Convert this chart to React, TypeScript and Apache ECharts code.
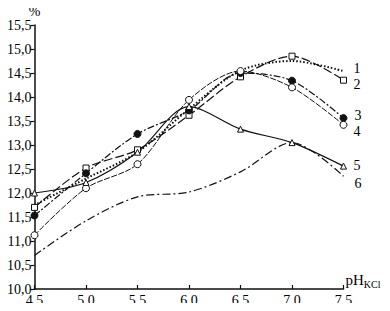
import React, { useEffect, useRef } from "react";
import * as echarts from "echarts";

const xValues = [4.5, 5.0, 5.5, 6.0, 6.5, 7.0, 7.5];
const s1 = [11.75, 12.3, 12.85, 13.75, 14.55, 14.75, 14.54];
const s2 = [11.7, 12.52, 12.9, 13.62, 14.42, 14.85, 14.35];
const s3 = [11.53, 12.41, 13.23, 13.72, 14.5, 14.34, 13.56];
const s4 = [11.12, 12.1, 12.6, 13.94, 14.54, 14.2, 13.42];
const s5 = [12.0, 12.22, 12.85, 13.8, 13.33, 13.05, 12.56];
const s6 = [10.7, 11.42, 11.92, 12.02, 12.44, 13.05, 12.35];
const seriesNames = ["1", "2", "3", "4", "5", "6"];

const FONT = "Liberation Serif";
const fmt = (v: number) => v.toFixed(1).replace(".", ",");

export default function App() {
  const ref = useRef<HTMLDivElement>(null);
  useEffect(() => {
    if (!ref.current) return;
    const chart = echarts.init(ref.current, undefined, { renderer: "svg" });
    const pts = (arr: number[]) => xValues.map((x, i) => [x, arr[i]]);
    const endLabel = (dx: number, dy: number) => ({
      show: true,
      formatter: "{a}",
      offset: [dx, dy],
      fontFamily: FONT,
      fontSize: 14,
      lineHeight: 12,
      color: "#000",
    });
    const base = (name: string, data: number[], extra: any) => ({
      name,
      type: "line",
      data: pts(data),
      smooth: 0.3,
      symbolSize: 6,
      itemStyle: { color: "#fff", borderColor: "#111", borderWidth: 1 },
      ...extra,
    });
    chart.setOption({
      animation: false,
      grid: { left: 34.5, right: 46.5, top: 25, bottom: 22 },
      xAxis: {
        type: "value",
        min: 4.5,
        max: 7.5,
        interval: 0.5,
        name: "{a|pH}{b|KCl}",
        nameLocation: "end",
        nameGap: 2,
        nameTextStyle: {
          align: "left",
          verticalAlign: "bottom",
          rich: {
            a: { fontFamily: FONT, fontSize: 15, color: "#000" },
            b: { fontFamily: FONT, fontSize: 10, color: "#000", padding: [8, 0, 0, 0] },
          },
        },
        axisLine: { lineStyle: { color: "#111", width: 1.5 } },
        axisTick: { inside: true, length: 4, lineStyle: { color: "#111", width: 1.2 } },
        axisLabel: {
          formatter: fmt,
          fontFamily: FONT,
          fontSize: 14,
          color: "#000",
          margin: 4,
        },
        splitLine: { show: false },
      },
      yAxis: {
        type: "value",
        min: 10,
        max: 15.5,
        interval: 0.5,
        name: "%",
        nameLocation: "end",
        nameGap: 6,
        nameTextStyle: { fontFamily: FONT, fontSize: 14, color: "#000", align: "center" },
        axisLine: { show: true, lineStyle: { color: "#111", width: 1.5 } },
        axisTick: { show: true, inside: false, length: 4, lineStyle: { color: "#111", width: 1.2 } },
        axisLabel: {
          formatter: fmt,
          fontFamily: FONT,
          fontSize: 14,
          color: "#000",
          margin: 3,
        },
        splitLine: { show: false },
      },
      series: [
        base(seriesNames[0], s1, {
          symbol: "none",
          lineStyle: { color: "#111", width: 2, type: [1.5, 2] },
          endLabel: endLabel(2, -3),
          z: 3,
        }),
        base(seriesNames[1], s2, {
          symbol: "rect",
          symbolSize: 6,
          lineStyle: { color: "#111", width: 1.2, type: [9, 3] },
          endLabel: endLabel(2, 4),
        }),
        base(seriesNames[2], s3, {
          symbol: "circle",
          symbolSize: 7,
          itemStyle: { color: "#111", borderColor: "#111", borderWidth: 1 },
          lineStyle: { color: "#111", width: 1.2, type: [7, 2, 2, 2] },
          endLabel: endLabel(3, -3),
        }),
        base(seriesNames[3], s4, {
          symbol: "circle",
          symbolSize: 7,
          lineStyle: { color: "#111", width: 1, type: [6, 1.5] },
          endLabel: endLabel(2, 7),
        }),
        base(seriesNames[4], s5, {
          symbol: "triangle",
          symbolSize: 6,
          lineStyle: { color: "#111", width: 1.2, type: "solid" },
          endLabel: endLabel(2, -1),
        }),
        base(seriesNames[5], s6, {
          symbol: "none",
          lineStyle: { color: "#111", width: 1.2, type: [8, 3, 2, 3] },
          endLabel: endLabel(3, 7),
        }),
      ],
    });
    return () => chart.dispose();
  }, []);
  return <div ref={ref} style={{ width: 390, height: 311, margin: -8, background: "#fff" }} />;
}
